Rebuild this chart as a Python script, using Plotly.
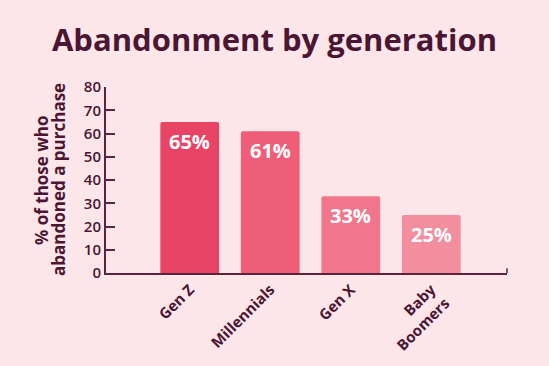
import plotly.graph_objects as go

categories = ["Gen Z", "Millennials", "Gen X", "Baby<br>Boomers"]
values = [65, 61, 33, 25]
labels = ["65%", "61%", "33%", "25%"]
colors = ["#E84466", "#EE5E79", "#F1768B", "#F38E9F"]
y_ticks = [0, 10, 20, 30, 40, 50, 60, 70, 80]
y_title_lines = ["% of those who", "abandoned a purchase"]

dark = "#4B1632"
axis_c = "#5C2340"
bg = "#FCE6EA"
font = "Open Sans"

fig = go.Figure()
fig.add_trace(go.Bar(
    x=categories, y=values, marker=dict(color=colors, line=dict(width=0)),
    width=0.73, hoverinfo="skip",
))
for c, v, t in zip(categories, values, labels):
    fig.add_annotation(x=c, y=v, text=f"<b>{t}</b>", showarrow=False,
                       yanchor="top", yshift=-4,
                       font=dict(family=font, size=20, color="white"))

for i, line in enumerate(y_title_lines):
    fig.add_annotation(xref="paper", yref="paper", x=0, y=0.5, text=f"<b>{line}</b>",
                       showarrow=False, textangle=-90, xanchor="center", yanchor="middle",
                       xshift=-65 + 17 * i,
                       font=dict(family=font, size=17, color=dark))

fig.add_shape(type="line", xref="paper", yref="paper", x0=1, x1=1, y0=0, y1=0.025,
              line=dict(color=axis_c, width=1.5))

fig.update_layout(
    width=549, height=366,
    paper_bgcolor=bg, plot_bgcolor=bg,
    margin=dict(l=106, r=42, t=87, b=90),
    barcornerradius=2,
    showlegend=False,
    title=dict(text="<b>Abandonment by generation</b>", x=0.5, xanchor="center",
               y=0.89, yanchor="middle",
               font=dict(family=font, size=31, color=dark)),
    font=dict(family=font, color=dark),
)
fig.update_xaxes(range=[-1.04, 3.94], showgrid=False, zeroline=False,
                 showline=True, linecolor=axis_c, linewidth=2,
                 ticks="", tickangle=-45,
                 tickfont=dict(family=font, size=15, color=dark, weight="bold"))
fig.update_yaxes(range=[0, 80], tickvals=y_ticks, showgrid=False, zeroline=False,
                 showline=True, linecolor=axis_c, linewidth=2,
                 ticks="inside", ticklen=9, tickwidth=1.5, tickcolor=axis_c,
                 tickfont=dict(family=font, size=15, color=dark, weight=600))

fig.write_html("out.html", config={"displayModeBar": False},
               post_script="document.body.style.margin='0';")
